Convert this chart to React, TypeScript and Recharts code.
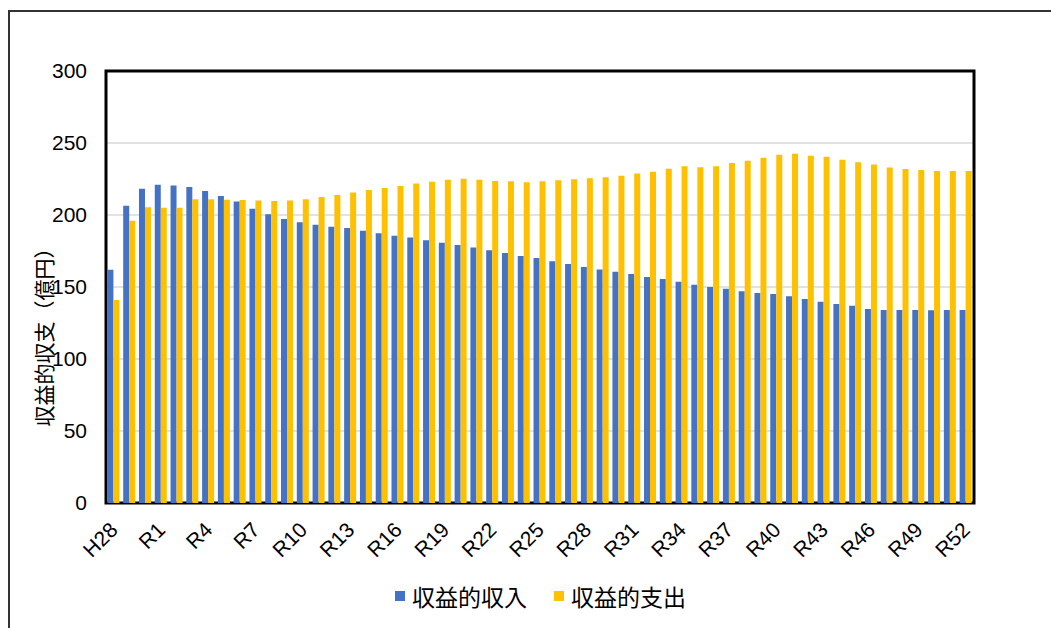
import { BarChart, Bar, XAxis, YAxis, CartesianGrid, Legend, ReferenceArea } from 'recharts';

const years = [
  'H28', 'H29', 'H30', 'R1', 'R2', 'R3', 'R4', 'R5', 'R6', 'R7', 'R8', 'R9', 'R10', 'R11',
  'R12', 'R13', 'R14', 'R15', 'R16', 'R17', 'R18', 'R19', 'R20', 'R21', 'R22', 'R23', 'R24',
  'R25', 'R26', 'R27', 'R28', 'R29', 'R30', 'R31', 'R32', 'R33', 'R34', 'R35', 'R36', 'R37',
  'R38', 'R39', 'R40', 'R41', 'R42', 'R43', 'R44', 'R45', 'R46', 'R47', 'R48', 'R49', 'R50',
  'R51', 'R52',
];

// 収益的収入 (億円)
const income = [
  162, 206.5, 218.3, 221, 220.4, 219.4, 216.7, 213.2, 209.3, 204.4, 200.5, 197.2, 194.9, 193.3,
  191.9, 191, 189.1, 187.3, 185.6, 184.3, 182.4, 180.8, 179.2, 177.5, 175.5, 173.6, 171.5,
  170.1, 167.8, 166, 163.9, 162.2, 160.6, 159, 156.9, 155.6, 153.7, 151.6, 150, 148.8,
  147, 145.8, 145.1, 143.5, 141.7, 139.8, 138.2, 137, 134.7, 134, 134, 134, 133.8,
  134, 134,
];

// 収益的支出 (億円)
const expense = [
  141, 196, 205.3, 205, 205, 210.9, 211, 210.6, 210.4, 210, 209.7, 210, 211, 212.5,
  213.9, 215.7, 217.4, 218.8, 220.1, 221.8, 223.1, 224.5, 225.2, 224.5, 223.6, 223.4, 222.7,
  223.4, 224.1, 224.8, 225.5, 226.2, 227.3, 228.9, 230.1, 232.2, 233.8, 233.1, 233.8, 236.1,
  237.7, 239.8, 241.9, 242.6, 241.2, 240.5, 238.4, 236.6, 235, 232.9, 232, 231.3, 230.6,
  230.6, 230.6,
];

const yTicks = [0, 50, 100, 150, 200, 250, 300];

const data = years.map((year, i) => ({ year, income: income[i], expense: expense[i] }));

const latin = '"Liberation Sans", Arial, "Noto Sans CJK JP", sans-serif';
const cjk = '"Noto Sans CJK JP", "Liberation Sans", sans-serif';

function YearTick({ x, y, payload }: any) {
  return (
    <g transform={`translate(${x},${y + 23})`}>
      <text
        textAnchor="end"
        dy="0.35em"
        transform="rotate(-45)"
        fontSize={21}
        fontFamily={latin}
        fill="#000"
      >
        {payload.value}
      </text>
    </g>
  );
}

const renderYLabel = (props: any) => {
  const { viewBox } = props;
  const cx = viewBox.x - 3;
  const cy = viewBox.y + viewBox.height / 2 + 45;
  return (
    <text
      x={cx}
      y={cy}
      transform={`rotate(-90, ${cx}, ${cy})`}
      textAnchor="middle"
      dominantBaseline="central"
      fontSize={21}
      fontFamily={cjk}
      fill="#000"
    >
      収益的収支（億円）
    </text>
  );
};

const renderLegend = (props: any) => {
  const { payload } = props;
  return (
    <div
      style={{
        display: 'flex',
        justifyContent: 'center',
        gap: 27,
        fontFamily: cjk,
        fontSize: 23,
        lineHeight: '32px',
        color: '#000',
      }}
    >
      {payload.map((entry: any) => (
        <div key={entry.value} style={{ display: 'flex', alignItems: 'center' }}>
          <span
            style={{ width: 10, height: 10, background: entry.color, marginRight: 7, display: 'inline-block' }}
          />
          <span>{entry.value}</span>
        </div>
      ))}
    </div>
  );
};

export default function App() {
  return (
    <div
      style={{
        position: 'absolute',
        left: 0,
        top: 0,
        width: 1051,
        height: 628,
        overflow: 'hidden',
        background: '#fff',
      }}
    >
      <div
        style={{
          position: 'absolute',
          left: 8,
          top: 10,
          width: 1100,
          height: 700,
          border: '2px solid #333',
        }}
      />
      <div style={{ position: 'absolute', left: 0, top: 0 }}>
        <BarChart
          width={1051}
          height={628}
          data={data}
          margin={{ top: 71, right: 77, bottom: 65, left: 46 }}
          barCategoryGap="9%"
          barGap={0}
        >
          <CartesianGrid vertical={false} stroke="#d9d9d9" strokeWidth={1.5} />
          <XAxis
            dataKey="year"
            interval={2}
            tickLine={false}
            axisLine={false}
            tickSize={0}
            tickMargin={0}
            height={60}
            tick={<YearTick />}
          />
          <YAxis
            domain={[0, 300]}
            ticks={yTicks}
            width={60}
            tickLine={false}
            axisLine={false}
            tickSize={0}
            tickMargin={19}
            tick={{ fontSize: 21, fill: '#000', fontFamily: latin }}
            label={{ content: renderYLabel }}
          />
          <Legend
            verticalAlign="middle"
            layout="horizontal"
            wrapperStyle={{ left: 107, top: 580, width: 867 }}
            content={renderLegend}
          />
          <Bar dataKey="income" name="収益的収入" fill="#4472c4" isAnimationActive={false} />
          <Bar dataKey="expense" name="収益的支出" fill="#ffc000" isAnimationActive={false} />
          <ReferenceArea y1={0} y2={300} fill="none" stroke="#000" strokeWidth={3} />
        </BarChart>
      </div>
    </div>
  );
}
